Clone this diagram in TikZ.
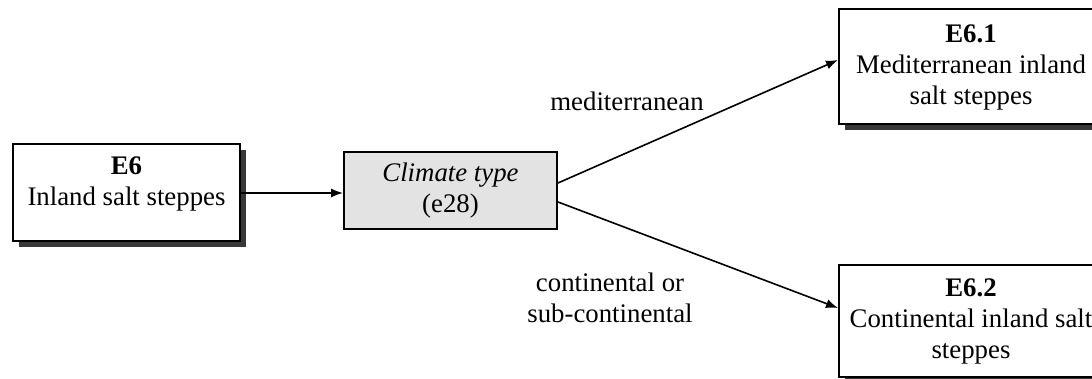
\documentclass[tikz,border=0pt]{standalone}
\usepackage{fontspec}
\setmainfont{Liberation Serif}
\usepackage{tikz}
\usetikzlibrary{positioning,arrows.meta,shadows}

\begin{document}
\begin{tikzpicture}[
  x=0.5pt, y=0.5pt,
  font=\fontsize{13.4}{15.5}\selectfont,
  habitat/.style={draw=black, align=center, fill=white, line width=1pt, inner sep=3pt,
    drop shadow={shadow xshift=2.8pt, shadow yshift=-2.8pt, fill=black!78, opacity=1}},
  key/.style={draw=black, align=center, fill=black!11, line width=1pt, inner sep=3pt,
    minimum width=106.5pt, minimum height=38.5pt},
  choice/.style={align=center, inner sep=1pt},
  arrow/.style={-{Latex[length=6pt, width=4.6pt]}, draw=black, line width=.8pt}
]
\clip (0,0) rectangle (1092,379);
\node[habitat, minimum width=113.5pt, minimum height=48.5pt] (steppes) at (126.5,186)
  {\textbf{E6}\\Inland salt steppes\\[-4pt]\mbox{}};
\node[key] (climate) at (450.5,188.5) {\textit{Climate type}\\(e28)};
\node[habitat, minimum width=132pt, minimum height=57.5pt] (medit) at (971,312)
  {\textbf{E6.1}\\Mediterranean inland\\salt steppes};
\node[habitat, minimum width=132pt, minimum height=56pt] (contin) at (971,58)
  {\textbf{E6.2}\\Continental inland salt\\steppes};
\node[choice] (lblmed) at (627,278) {mediterranean};
\node[choice] (lblcont) at (610,81) {continental or\\sub-continental};
\draw[arrow] (steppes.east) -- (steppes.east -| climate.west);
\draw[arrow] ([yshift=3.75pt]climate.east) -- ([yshift=3.5pt]medit.west);
\draw[arrow] ([yshift=-5.75pt]climate.east) -- ([yshift=6.5pt]contin.west);
\end{tikzpicture}
\end{document}
